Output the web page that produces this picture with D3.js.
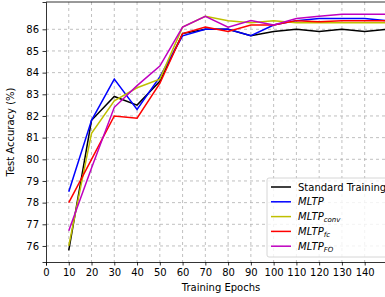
<!DOCTYPE html>
<html>
<head>
<meta charset="utf-8">
<script src="https://cdn.jsdelivr.net/npm/d3@7"></script>
<style>
  body { margin: 0; background: #fff; }
  svg { font-family: "DejaVu Sans", sans-serif; }
</style>
</head>
<body>
<div id="chart"></div>
<script>
// data
var epochs = [10, 20, 30, 40, 50, 60, 70, 80, 90, 100, 110, 120, 130, 140, 150];
var standard = [75.8, 81.8, 82.9, 82.5, 83.6, 85.8, 86.0, 86.0, 85.7, 85.9, 86.0, 85.9, 86.0, 85.9, 86.0];
var mltp     = [78.5, 81.8, 83.7, 82.3, 83.8, 85.7, 86.0, 86.0, 85.7, 86.2, 86.4, 86.5, 86.5, 86.5, 86.4];
var mltpConv = [76.0, 81.2, 82.7, 83.3, 83.7, 86.1, 86.6, 86.4, 86.3, 86.4, 86.3, 86.3, 86.3, 86.3, 86.3];
var mltpFc   = [78.0, 80.0, 82.0, 81.9, 83.5, 85.8, 86.1, 85.9, 86.2, 86.2, 86.4, 86.35, 86.4, 86.4, 86.4];
var mltpFO   = [76.7, 79.6, 82.4, 83.4, 84.3, 86.1, 86.6, 86.1, 86.4, 86.2, 86.5, 86.6, 86.7, 86.7, 86.7];
var xTicks = [0, 10, 20, 30, 40, 50, 60, 70, 80, 90, 100, 110, 120, 130, 140];
var yTicks = [76, 77, 78, 79, 80, 81, 82, 83, 84, 85, 86];

var series = [
  {name: "Standard Training", sub: "", values: standard, color: "#000000", italic: false},
  {name: "MLTP", sub: "", values: mltp, color: "#0000ff", italic: true},
  {name: "MLTP", sub: "conv", values: mltpConv, color: "#bfbf00", italic: true},
  {name: "MLTP", sub: "fc", values: mltpFc, color: "#ff0000", italic: true},
  {name: "MLTP", sub: "FO", values: mltpFO, color: "#bf00bf", italic: true}
];

var width = 385, height = 297;
var plotL = 46, plotT = 2, plotR = 392, plotB = 262;

var svg = d3.select("#chart").append("svg")
  .attr("width", width)
  .attr("height", height);

var x = d3.scaleLinear().domain([0, 152]).range([plotL, plotR]);
var y = d3.scaleLinear().domain([75.26, 87.26]).range([plotB, plotT]);

// grid
svg.append("g").selectAll("line").data(xTicks.slice(1)).enter().append("line")
  .attr("x1", function(d) { return x(d); })
  .attr("x2", function(d) { return x(d); })
  .attr("y1", plotT).attr("y2", plotB)
  .attr("stroke", "#b0b0b0").attr("stroke-width", 0.8).attr("stroke-dasharray", "3,3");
svg.append("g").selectAll("line").data(yTicks).enter().append("line")
  .attr("y1", function(d) { return y(d); })
  .attr("y2", function(d) { return y(d); })
  .attr("x1", plotL).attr("x2", plotR)
  .attr("stroke", "#b0b0b0").attr("stroke-width", 0.8).attr("stroke-dasharray", "3,3");

// lines
var line = d3.line()
  .x(function(d, i) { return x(epochs[i]); })
  .y(function(d) { return y(d); });

svg.append("g").selectAll("path").data(series).enter().append("path")
  .attr("d", function(s) { return line(s.values); })
  .attr("fill", "none")
  .attr("stroke", function(s) { return s.color; })
  .attr("stroke-width", 1.5);

// axes
var xAxis = svg.append("g")
  .attr("transform", "translate(0," + plotB + ")")
  .call(d3.axisBottom(x).tickValues(xTicks).tickSize(3.5).tickPadding(3.5));
var yAxis = svg.append("g")
  .attr("transform", "translate(" + plotL + ",0)")
  .call(d3.axisLeft(y).tickValues(yTicks).tickSize(3.5).tickPadding(3.5));
[xAxis, yAxis].forEach(function(a) {
  a.select(".domain").attr("stroke", "#000").attr("stroke-width", 0.8);
  a.selectAll(".tick line").attr("stroke", "#000").attr("stroke-width", 0.8);
  a.selectAll("text").attr("font-size", 10).attr("fill", "#000").attr("font-family", "DejaVu Sans");
});
// top frame
svg.append("line").attr("x1", plotL).attr("x2", plotR).attr("y1", plotT).attr("y2", plotT)
  .attr("stroke", "#000").attr("stroke-width", 0.8);

svg.append("text")
  .attr("x", 221).attr("y", 291)
  .attr("text-anchor", "middle").attr("font-size", 10)
  .text("Training Epochs");
svg.append("text")
  .attr("transform", "translate(14," + ((plotT + plotB) / 2) + ") rotate(-90)")
  .attr("text-anchor", "middle").attr("font-size", 10)
  .text("Test Accuracy (%)");

// legend
var lg = svg.append("g").attr("transform", "translate(267,178)");
lg.append("rect")
  .attr("x", 0).attr("y", 0).attr("width", 130).attr("height", 79).attr("rx", 2)
  .attr("fill", "#fff").attr("fill-opacity", 0.8)
  .attr("stroke", "#cccccc").attr("stroke-width", 0.8);
var items = lg.selectAll("g.item").data(series).enter().append("g")
  .attr("class", "item")
  .attr("transform", function(d, i) { return "translate(0," + (9 + i * 14.8) + ")"; });
items.append("line")
  .attr("x1", 4).attr("x2", 24).attr("y1", 0).attr("y2", 0)
  .attr("stroke", function(d) { return d.color; }).attr("stroke-width", 1.5);
var t = items.append("text")
  .attr("x", 31).attr("y", 3.5)
  .attr("font-size", 10)
  .attr("font-style", function(d) { return d.italic ? "italic" : "normal"; });
t.append("tspan").text(function(d) { return d.name; });
t.append("tspan")
  .attr("font-size", 7).attr("dy", 2)
  .text(function(d) { return d.sub; });
</script>
</body>
</html>
